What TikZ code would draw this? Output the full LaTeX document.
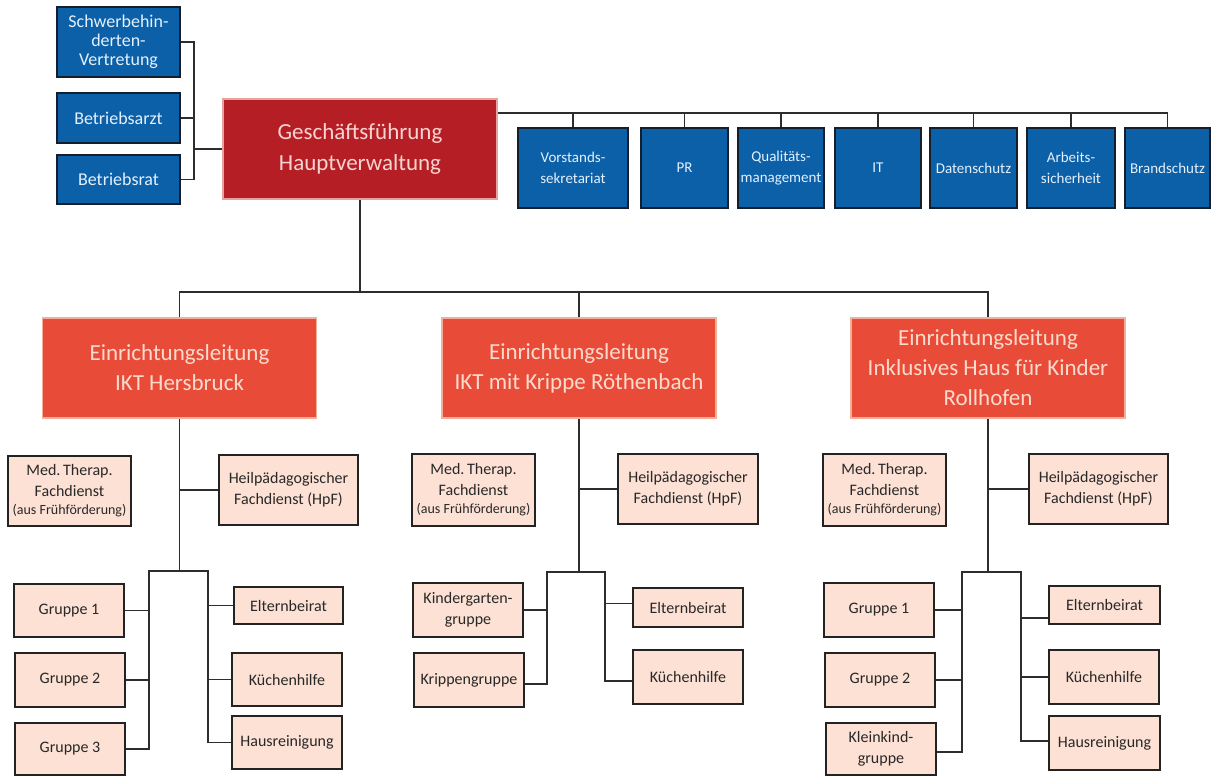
\documentclass[tikz,border=0pt]{standalone}
\usepackage{fontspec}
\setmainfont{Carlito}
\definecolor{bfill}{RGB}{12,96,168}
\definecolor{bdraw}{RGB}{20,30,45}
\definecolor{btext}{RGB}{228,240,252}
\definecolor{gfill}{RGB}{182,30,38}
\definecolor{gdraw}{RGB}{232,160,160}
\definecolor{gtext}{RGB}{248,212,208}
\definecolor{efill}{RGB}{232,76,56}
\definecolor{edraw}{RGB}{242,175,155}
\definecolor{etext}{RGB}{252,218,205}
\definecolor{sfill}{RGB}{252,225,212}
\definecolor{sdraw}{RGB}{35,35,35}
\definecolor{stext}{RGB}{40,40,40}
\definecolor{linec}{RGB}{45,45,45}
\tikzset{
  bluebox/.style={draw=bdraw, fill=bfill, text=btext, line width=1.6pt, inner sep=0pt, align=center},
  gfbox/.style={draw=gdraw, fill=gfill, text=gtext, line width=1.5pt, inner sep=0pt, align=center, minimum width=274pt, minimum height=100pt, font=\fontsize{23}{31}\selectfont},
  elbox/.style={draw=edraw, fill=efill, text=etext, line width=1.5pt, inner sep=0pt, align=center, minimum width=274pt, minimum height=100pt, font=\fontsize{23}{30}\selectfont},
  smallbox/.style={draw=sdraw, fill=sfill, text=stext, line width=1.6pt, inner sep=0pt, align=center, font=\fontsize{16}{21}\selectfont},
  lbox/.style={bluebox, minimum width=123pt, font=\fontsize{18}{19}\selectfont},
  rbox/.style={bluebox, minimum height=80pt, font=\fontsize{15}{21}\selectfont},
  conn/.style={draw=linec, line width=1.8pt},
}
\newcommand{\aussmall}{{\fontsize{14}{15}\selectfont(aus Frühförderung)}}
\begin{document}
\begin{tikzpicture}[x=1pt,y=-1pt]
\useasboundingbox (0,0) rectangle (1211,776);
\fill[white] (0,0) rectangle (1211,776);
% top left
\node[lbox, minimum height=70pt] (sbv) at (118.5,42) {Schwerbehin-\\derten-\\Vertretung};
\node[lbox, minimum height=50pt] (ba) at (118.5,118) {Betriebsarzt};
\node[lbox, minimum height=49pt] (br) at (118.5,179.5) {Betriebsrat};
\node[gfbox] (gf) at (360,149) {Geschäftsführung\\Hauptverwaltung};
% top right
\node[rbox, minimum width=110pt] (vs) at (573,168) {Vorstands-\\sekretariat};
\node[rbox, minimum width=87pt] (pr) at (684.5,168) {PR};
\node[rbox, minimum width=86pt] (qm) at (781,168) {Qualitäts-\\management};
\node[rbox, minimum width=86pt] (it) at (878,168) {IT};
\node[rbox, minimum width=87pt] (ds) at (973.5,168) {Datenschutz};
\node[rbox, minimum width=88pt] (as) at (1071,168) {Arbeits-\\sicherheit};
\node[rbox, minimum width=85pt] (bs) at (1167.5,168) {Brandschutz};
% Einrichtungsleitungen
\node[elbox] (el1) at (179.5,368) {Einrichtungsleitung\\IKT Hersbruck};
\node[elbox] (el2) at (579,368) {Einrichtungsleitung\\IKT mit Krippe Röthenbach};
\node[elbox] (el3) at (988,368) {Einrichtungsleitung\\Inklusives Haus für Kinder\\Rollhofen};
% section 1
\node[smallbox, minimum width=123pt, minimum height=70pt] (med1) at (69.5,491) {Med.\,Therap.\\Fachdienst\\[-3pt]\aussmall};
\node[smallbox, minimum width=139pt, minimum height=70pt] (hpf1) at (288.5,490) {Heilpädagogischer\\Fachdienst (HpF)};
\node[smallbox, minimum width=110pt, minimum height=53pt] (g11) at (69,610.5) {Gruppe 1};
\node[smallbox, minimum width=110pt, minimum height=54pt] (g12) at (70,680) {Gruppe 2};
\node[smallbox, minimum width=110pt, minimum height=52pt] (g13) at (70,749) {Gruppe 3};
\node[smallbox, minimum width=109pt, minimum height=37pt] (eb1) at (288.5,605.5) {Elternbeirat};
\node[smallbox, minimum width=110pt, minimum height=53pt] (kh1) at (287,679.5) {Küchenhilfe};
\node[smallbox, minimum width=110pt, minimum height=53pt] (hr1) at (287,742.5) {Hausreinigung};
% section 2
\node[smallbox, minimum width=123pt, minimum height=72pt] (med2) at (473.5,490) {Med.\,Therap.\\Fachdienst\\[-3pt]\aussmall};
\node[smallbox, minimum width=140pt, minimum height=70pt] (hpf2) at (688,489) {Heilpädagogischer\\Fachdienst (HpF)};
\node[smallbox, minimum width=110pt, minimum height=54pt] (kg) at (468,610) {Kindergarten-\\gruppe};
\node[smallbox, minimum width=110pt, minimum height=54pt] (kr) at (469,680) {Krippengruppe};
\node[smallbox, minimum width=110pt, minimum height=39pt] (eb2) at (688,607.5) {Elternbeirat};
\node[smallbox, minimum width=110pt, minimum height=54pt] (kh2) at (688,677) {Küchenhilfe};
% section 3
\node[smallbox, minimum width=123pt, minimum height=72pt] (med3) at (884.5,490) {Med.\,Therap.\\Fachdienst\\[-3pt]\aussmall};
\node[smallbox, minimum width=139pt, minimum height=70pt] (hpf3) at (1098.5,489) {Heilpädagogischer\\Fachdienst (HpF)};
\node[smallbox, minimum width=110pt, minimum height=54pt] (g31) at (879,610) {Gruppe 1};
\node[smallbox, minimum width=110pt, minimum height=54pt] (g32) at (880,680) {Gruppe 2};
\node[smallbox, minimum width=110pt, minimum height=52pt] (kk) at (881,749) {Kleinkind-\\gruppe};
\node[smallbox, minimum width=111pt, minimum height=38pt] (eb3) at (1104.5,605) {Elternbeirat};
\node[smallbox, minimum width=110pt, minimum height=54pt] (kh3) at (1104,677) {Küchenhilfe};
\node[smallbox, minimum width=111pt, minimum height=54pt] (hr3) at (1104.5,743) {Hausreinigung};
% coordinates
\coordinate (lbx) at (194,0);
\coordinate (tb) at (0,113);
\coordinate (mb) at (0,292);
\coordinate (s1l) at (149,571);
\coordinate (s1r) at (208,571);
\coordinate (s2l) at (547,572);
\coordinate (s2r) at (605,572);
\coordinate (s3l) at (962,572);
\coordinate (s3r) at (1021,572);
% top-left connectors
\draw[conn] (sbv.east) -- (sbv.east -| lbx) -- (br.east -| lbx) -- (br.east);
\draw[conn] (ba.east) -- (ba.east -| lbx);
\draw[conn] (gf.west) -- (gf.west -| lbx);
% top-right connectors
\draw[conn] ([yshift=36pt]gf.east) -| (bs.north);
\foreach \n in {vs,pr,qm,it,ds,as}{\draw[conn] (\n.north) -- (\n.north |- tb);}
% main connectors
\draw[conn] (gf.south) -- (gf.south |- mb);
\draw[conn] (el1.north) |- (el3.north |- mb) -- (el3.north);
\draw[conn] (el2.north) -- (el2.north |- mb);
% section 1 connectors
\draw[conn] (el1.south) -- (el1.south |- s1l);
\draw[conn] (hpf1.west) -- (hpf1.west -| el1.south);
\draw[conn] (g13.east) -| (s1l) -- (s1r) |- (hr1.west);
\draw[conn] (g11.east) -- (g11.east -| s1l);
\draw[conn] (g12.east) -- (g12.east -| s1l);
\draw[conn] (eb1.west) -- (eb1.west -| s1r);
\draw[conn] (kh1.west) -- (kh1.west -| s1r);
% section 2 connectors
\draw[conn] (el2.south) -- (el2.south |- s2l);
\draw[conn] (hpf2.west) -- (hpf2.west -| el2.south);
\draw[conn] ([yshift=-4pt]kr.east) -| (s2l) -- (s2r) |- ([yshift=-4pt]kh2.west);
\draw[conn] (kg.east) -- (kg.east -| s2l);
\draw[conn] ([yshift=4pt]eb2.west) -- ([yshift=4pt]eb2.west -| s2r);
% section 3 connectors
\draw[conn] (el3.south) -- (el3.south |- s3l);
\draw[conn] (hpf3.west) -- (hpf3.west -| el3.south);
\draw[conn] ([yshift=-3pt]kk.east) -| (s3l) -- (s3r) |- ([yshift=2pt]hr3.west);
\draw[conn] (g31.east) -- (g31.east -| s3l);
\draw[conn] (g32.east) -- (g32.east -| s3l);
\draw[conn] ([yshift=-13pt]eb3.west) -- ([yshift=-13pt]eb3.west -| s3r);
\draw[conn] (kh3.west) -- (kh3.west -| s3r);
\end{tikzpicture}
\end{document}
